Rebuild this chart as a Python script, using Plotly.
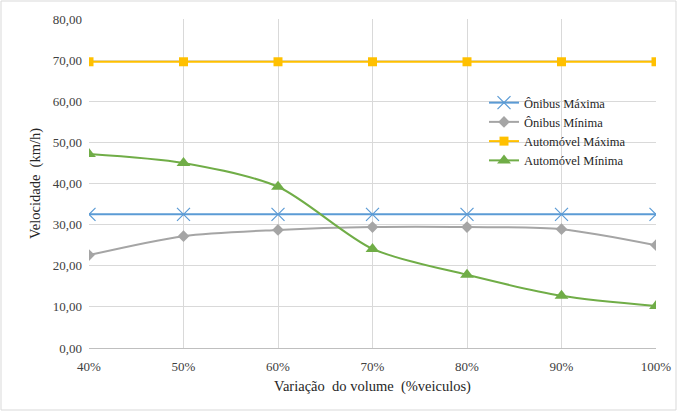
import plotly.graph_objects as go

categories = [40, 50, 60, 70, 80, 90, 100]
tick_labels = ["40%", "50%", "60%", "70%", "80%", "90%", "100%"]
onibus_max = [32.5, 32.5, 32.5, 32.5, 32.5, 32.5, 32.5]
onibus_min = [22.6, 27.2, 28.7, 29.4, 29.4, 28.9, 25.0]
auto_max = [69.6, 69.6, 69.6, 69.6, 69.6, 69.6, 69.6]
auto_min = [47.2, 45.0, 39.2, 24.1, 17.8, 12.7, 10.2]
y_ticks = [0, 10, 20, 30, 40, 50, 60, 70, 80]
y_labels = ["0,00", "10,00", "20,00", "30,00", "40,00", "50,00", "60,00", "70,00", "80,00"]

W, H = 678, 412
ML, MR, MT, MB = 89, 22, 19, 64
pw, ph = W - ML - MR, H - MT - MB

font = "'Liberation Serif', 'Times New Roman', 'DejaVu Serif', serif"

fig = go.Figure()
fig.add_trace(go.Scatter(x=categories, y=onibus_max, name="Ônibus Máxima", mode="lines+markers",
                         line=dict(color="#5B9BD5", width=2),
                         marker=dict(symbol="x-thin-open", size=13, line=dict(color="#7FB2E5", width=1.2))))
fig.add_trace(go.Scatter(x=categories, y=onibus_min, name="Ônibus Mínima", mode="lines+markers",
                         line=dict(color="#A5A5A5", width=2, shape="spline", smoothing=0.8),
                         marker=dict(symbol="diamond", size=9, color="#A5A5A5")))
fig.add_trace(go.Scatter(x=categories, y=auto_max, name="Automóvel Máxima", mode="lines+markers",
                         line=dict(color="#FFC000", width=2),
                         marker=dict(symbol="square", size=9, color="#FFC000")))
fig.add_trace(go.Scatter(x=categories, y=auto_min, name="Automóvel Mínima", mode="lines+markers",
                         line=dict(color="#70AD47", width=2, shape="spline", smoothing=0.8),
                         marker=dict(symbol="triangle-up", size=12, color="#70AD47")))

fig.add_shape(type="rect", xref="paper", yref="paper",
              x0=(1 - ML) / pw, x1=(W - 2 - ML) / pw,
              y0=-(MB - 2) / ph,
              y1=1 + (MT - 1) / ph,
              line=dict(color="#D9D9D9", width=1), layer="below")

fig.update_layout(
    width=W, height=H,
    margin=dict(l=ML, r=MR, t=MT, b=MB, autoexpand=False),
    plot_bgcolor="white", paper_bgcolor="white",
    font=dict(family=font, size=12, color="#404040"),
    showlegend=True,
    legend=dict(x=(484 - ML) / pw, y=1 - (88 - MT) / ph, xanchor="left", yanchor="top",
                font=dict(family=font, size=12.5, color="#262626"),
                bgcolor="rgba(255,255,255,0)", tracegroupgap=0, itemwidth=30),
    xaxis=dict(range=[40, 100], tickvals=categories, ticktext=tick_labels,
               showgrid=True, gridcolor="#D9D9D9", gridwidth=1,
               showline=True, linecolor="#BFBFBF", linewidth=1,
               zeroline=False, ticks="", ticklabelstandoff=6,
               tickfont=dict(family=font, size=13, color="#404040"),
               title=dict(text="Variação  do volume  (%veiculos)", standoff=8,
                          font=dict(family=font, size=14.5, color="#262626"))),
    yaxis=dict(range=[0, 80], tickvals=y_ticks, ticktext=y_labels,
               showgrid=True, gridcolor="#D9D9D9", gridwidth=1,
               showline=False, zeroline=False, ticks="", ticklabelstandoff=6,
               tickfont=dict(family=font, size=13, color="#404040"),
               title=dict(text="Velocidade  (km/h)", standoff=8,
                          font=dict(family=font, size=14.5, color="#262626"))),
)

fig.write_html("out.html", config={"displayModeBar": False},
               post_script="document.body.style.margin='0';document.body.style.overflow='hidden';")
